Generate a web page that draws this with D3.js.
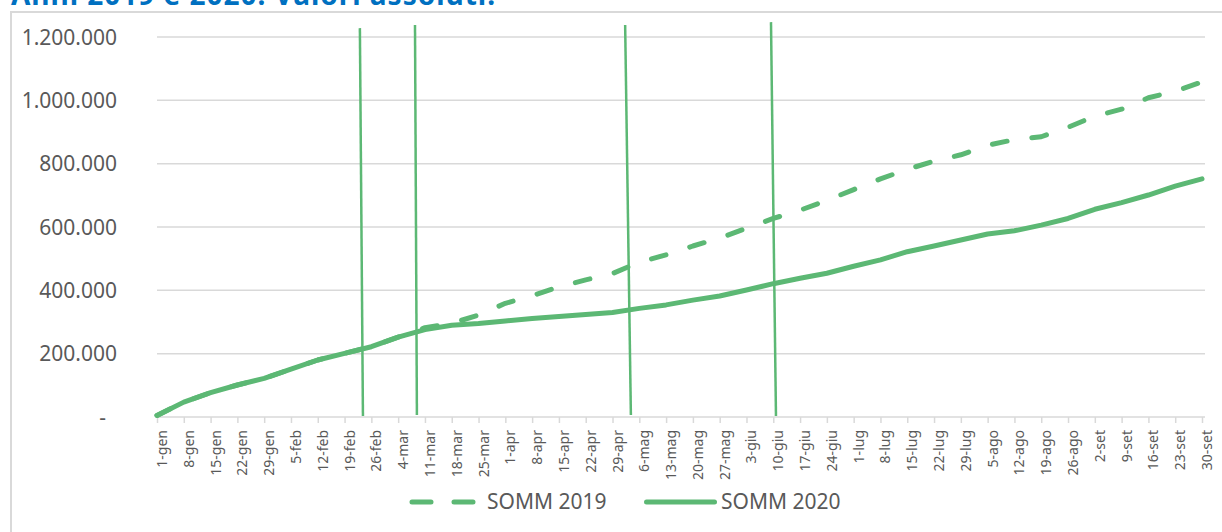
<!DOCTYPE html>
<html>
<head>
<meta charset="utf-8">
<script src="https://cdn.jsdelivr.net/npm/d3@7"></script>
<style>
  body { margin: 0; background: #fff; }
  svg { display: block; font-family: "Noto Sans", sans-serif; }
</style>
</head>
<body>
<svg width="1222" height="532"></svg>
<script>
// etichette dell'asse x (una ogni 7 giorni)
const tickLabels = ['1-gen','8-gen','15-gen','22-gen','29-gen','5-feb','12-feb','19-feb','26-feb','4-mar',
  '11-mar','18-mar','25-mar','1-apr','8-apr','15-apr','22-apr','29-apr','6-mag','13-mag',
  '20-mag','27-mag','3-giu','10-giu','17-giu','24-giu','1-lug','8-lug','15-lug','22-lug',
  '29-lug','5-ago','12-ago','19-ago','26-ago','2-set','9-set','16-set','23-set','30-set'];

// valori cumulati letti in corrispondenza delle etichette
const somm2019 = [5000, 47000, 77000, 101000, 122000, 151000, 180000, 201000, 222000, 252000,
  282000, 296000, 322000, 359000, 383000, 411000, 433000, 453000, 489000, 512000,
  540000, 565000, 596000, 627000, 653000, 684000, 718000, 752000, 782000, 808000,
  828000, 858000, 876000, 885000, 915000, 950000, 972000, 1008000, 1029000, 1058000];
const somm2020 = [5000, 47000, 77000, 101000, 122000, 151000, 180000, 201000, 222000, 252000,
  276000, 290000, 295000, 303000, 311000, 317000, 324000, 330000, 343000, 354000,
  369000, 382000, 401000, 421000, 438000, 454000, 476000, 496000, 522000, 540000,
  559000, 578000, 588000, 606000, 627000, 656000, 677000, 701000, 729000, 752000];

// linee verticali (giorno in basso / in alto, valore in alto)
const markerDayBottom = [53.8, 67.9, 123.8, 161.7];
const markerDayTop = [53.0, 67.4, 122.3, 160.4];
const markerTop = [1228000, 1238000, 1238000, 1247000];
const markerBottom = [3000, 6000, 6000, 3000];

const yTicks = [0, 200000, 400000, 600000, 800000, 1000000, 1200000];
const seriesNames = ['SOMM 2019', 'SOMM 2020'];

const green = '#5cb874';
const grid = '#d9d9d9';
const textColor = '#595959';
const nDays = 274;
const tickDays = tickLabels.map((t, i) => i * 7);

var svg = d3.select('svg');

// titolo (tagliato in alto come nell'originale)
svg.append('text')
  .attr('x', 11).attr('y', 5)
  .attr('font-size', 28).attr('font-weight', 'bold')
  .attr('fill', '#0070c0')
  .attr('textLength', 484)
  .text('Anni 2019 e 2020: Valori assoluti.');

// cornice del grafico
svg.append('rect')
  .attr('x', 11).attr('y', 12)
  .attr('width', 1260).attr('height', 560)
  .attr('fill', 'none').attr('stroke', grid).attr('stroke-width', 2);

var x = d3.scaleLinear().domain([0, nDays - 1]).range([157, 1202]);
var y = d3.scaleLinear().domain([0, 1200000]).range([417, 37]);

// griglia orizzontale
svg.append('g').selectAll('line')
  .data(yTicks)
  .enter().append('line')
    .attr('x1', x(0)).attr('x2', x(nDays - 1) + 3)
    .attr('y1', d => y(d)).attr('y2', d => y(d))
    .attr('stroke', grid).attr('stroke-width', 1.5);

// etichette asse y
var fmt = d3.formatLocale({ decimal: ',', thousands: '.', grouping: [3], currency: ['€', ''] }).format(',.0f');
svg.append('g').selectAll('text')
  .data(yTicks)
  .enter().append('text')
    .attr('x', d => d === 0 ? 106 : 117)
    .attr('y', d => y(d) + 7.7)
    .attr('text-anchor', 'end')
    .attr('font-size', 21)
    .attr('fill', textColor)
    .text(d => d === 0 ? '-' : fmt(d));

// asse x
var xAxis = d3.axisBottom(x)
  .tickValues(tickDays)
  .tickFormat((d, i) => tickLabels[i])
  .tickSize(6)
  .tickSizeOuter(0);

var gx = svg.append('g')
  .attr('transform', 'translate(0,' + y(0) + ')')
  .call(xAxis);
gx.select('.domain').remove();
gx.selectAll('.tick line').attr('stroke', grid).attr('stroke-width', 1.5);
gx.selectAll('.tick text')
  .attr('transform', 'rotate(-90)')
  .attr('x', -13).attr('y', 9.5).attr('dy', null)
  .attr('text-anchor', 'end')
  .attr('font-family', '"Noto Sans", sans-serif')
  .attr('font-size', 14)
  .attr('fill', textColor);

// serie
var line = d3.line()
  .x((d, i) => x(tickDays[i]))
  .y(d => y(d));

svg.append('path')
  .datum(somm2019)
  .attr('d', line)
  .attr('fill', 'none').attr('stroke', green)
  .attr('stroke-width', 5)
  .attr('stroke-linecap', 'round').attr('stroke-linejoin', 'round')
  .attr('stroke-dasharray', '15,25');

svg.append('path')
  .datum(somm2020)
  .attr('d', line)
  .attr('fill', 'none').attr('stroke', green)
  .attr('stroke-width', 5)
  .attr('stroke-linecap', 'round').attr('stroke-linejoin', 'round');

// linee verticali
svg.append('g').selectAll('line')
  .data(markerTop)
  .enter().append('line')
    .attr('x1', (d, i) => x(markerDayTop[i]))
    .attr('x2', (d, i) => x(markerDayBottom[i]))
    .attr('y1', d => y(d))
    .attr('y2', (d, i) => y(markerBottom[i]))
    .attr('stroke', green).attr('stroke-width', 2.5);

// legenda
var legend = svg.append('g');
legend.append('line')
  .attr('x1', 412).attr('x2', 481).attr('y1', 502).attr('y2', 502)
  .attr('stroke', green).attr('stroke-width', 5)
  .attr('stroke-linecap', 'round').attr('stroke-dasharray', '19,23');
legend.append('text')
  .attr('x', 487).attr('y', 509.3)
  .attr('font-size', 21).attr('fill', textColor)
  .text(seriesNames[0]);
legend.append('line')
  .attr('x1', 646.5).attr('x2', 714.5).attr('y1', 502).attr('y2', 502)
  .attr('stroke', green).attr('stroke-width', 5)
  .attr('stroke-linecap', 'round');
legend.append('text')
  .attr('x', 721).attr('y', 509.3)
  .attr('font-size', 21).attr('fill', textColor)
  .text(seriesNames[1]);
</script>
</body>
</html>
